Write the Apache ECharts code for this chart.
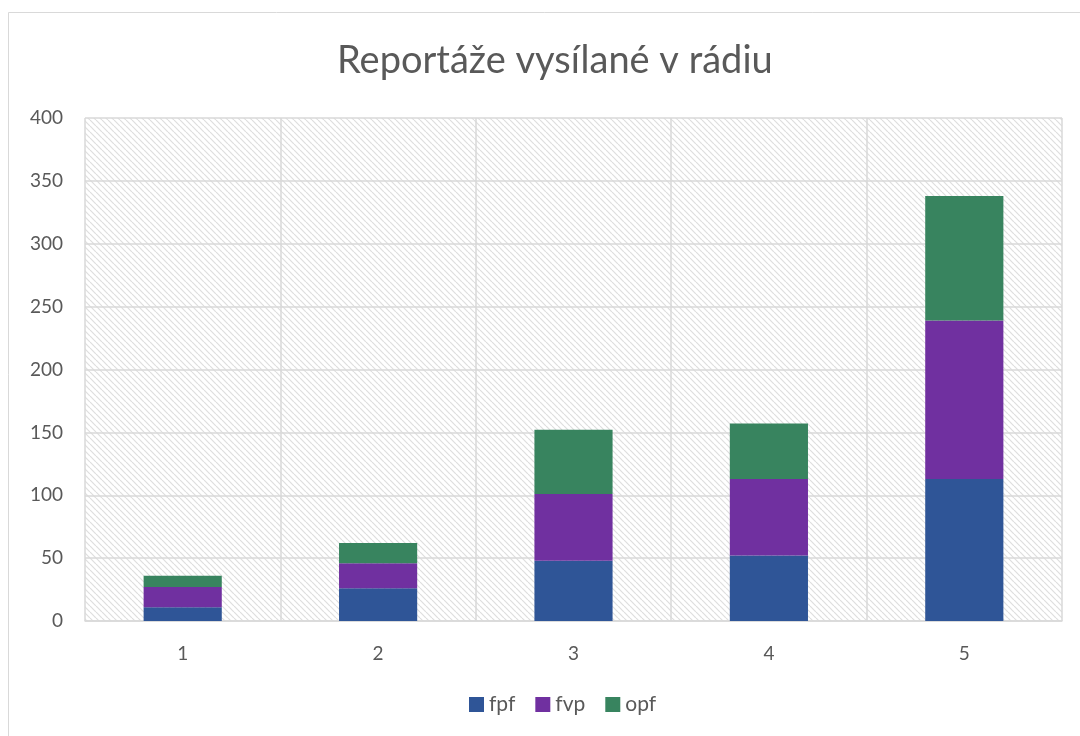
<!DOCTYPE html>
<html><head><meta charset="utf-8">
<script src="https://cdn.jsdelivr.net/npm/echarts@6/dist/echarts.min.js"></script>
<style>html,body{margin:0;padding:0;background:#fff}#c{width:1080px;height:736px}</style>
</head><body><div id="c"></div>
<script>
const categories = ['1', '2', '3', '4', '5'];
const fpf = [11, 26, 48, 52, 113];
const fvp = [16, 20, 53, 61, 126];
const opf = [9, 16, 51, 44, 99];
const seriesNames = ['fpf', 'fvp', 'opf'];
const colors = ['#2F5597', '#7030A0', '#38845F'];

function hatch() {
  const c = document.createElement('canvas');
  c.width = 6; c.height = 6;
  const g = c.getContext('2d');
  g.fillStyle = '#ffffff'; g.fillRect(0, 0, 6, 6);
  g.strokeStyle = '#dedede'; g.lineWidth = 1.2;
  for (let k = -6; k <= 12; k += 6) {
    g.beginPath(); g.moveTo(k, 0); g.lineTo(k + 6, 6); g.stroke();
  }
  return { image: c, repeat: 'repeat' };
}

const chart = echarts.init(document.getElementById('c'));
const font = 'Lato, "Noto Sans", sans-serif';
chart.setOption({
  animation: false,
  backgroundColor: '#fff',
  title: {
    text: 'Reportáže vysílané v rádiu', left: 332, top: 37,
    textStyle: { fontFamily: font, fontSize: 38, fontWeight: 'normal', color: '#595959' }
  },
  graphic: [{
    type: 'rect', shape: { x: 8.5, y: 12.5, width: 1100, height: 800 },
    style: { fill: 'none', stroke: '#d9d9d9', lineWidth: 1 }, z: -10
  }],
  legend: {
    bottom: 16, left: 464, itemWidth: 15, itemHeight: 15, itemGap: 20,
    icon: 'rect',
    textStyle: { fontFamily: font, fontSize: 21, color: '#595959' },
    data: seriesNames
  },
  grid: {
    left: 85, right: 18, top: 118, bottom: 115,
    show: true, backgroundColor: hatch(), borderWidth: 0
  },
  xAxis: {
    type: 'category', data: categories,
    axisLine: { lineStyle: { color: '#d9d9d9', width: 1.5 } },
    axisTick: { show: false },
    axisLabel: { fontFamily: font, fontSize: 19, color: '#595959', margin: 23 },
    splitLine: { show: true, lineStyle: { color: '#d9d9d9', width: 1.5 } }
  },
  yAxis: {
    type: 'value', min: 0, max: 400, interval: 50,
    axisLine: { show: false }, axisTick: { show: false },
    axisLabel: { fontFamily: font, fontSize: 19, color: '#595959', margin: 22 },
    splitLine: { lineStyle: { color: '#d9d9d9', width: 1.5 } }
  },
  series: [fpf, fvp, opf].map((d, i) => ({
    name: seriesNames[i], type: 'bar', stack: 'a', data: d, barWidth: '40%',
    itemStyle: { color: colors[i] }
  }))
});
</script></body></html>
